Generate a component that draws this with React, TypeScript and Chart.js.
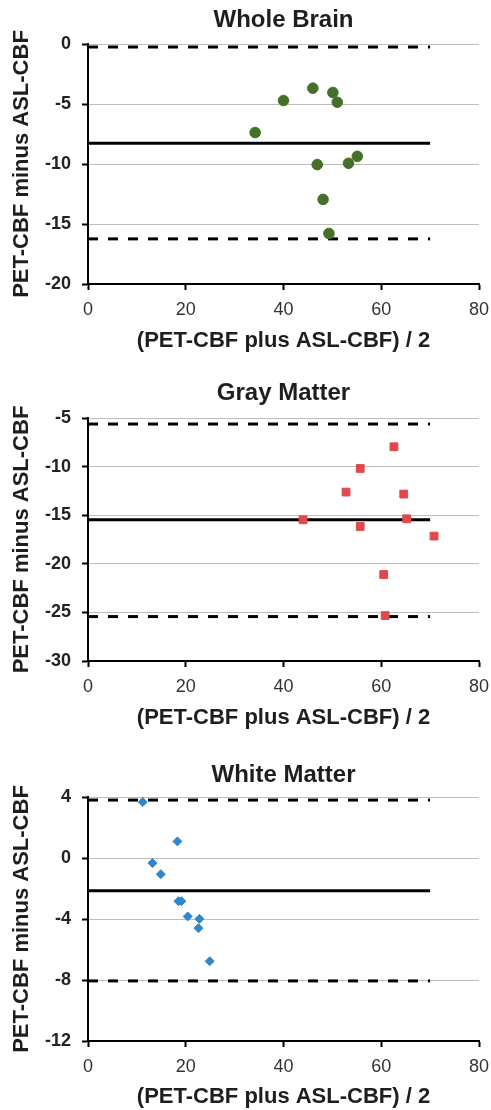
import React, { useEffect, useRef } from "react";
import { Chart, registerables } from "chart.js";

Chart.register(...registerables);

// ---- data ----
const xTicks = [0, 20, 40, 60, 80];
const lineSpanX = [0, 70];

const wholeBrainX = [34.2, 40.0, 46.0, 50.1, 51.0, 46.9, 53.3, 55.1, 48.1, 49.3];
const wholeBrainY = [-7.38, -4.71, -3.68, -4.04, -4.85, -10.05, -9.94, -9.36, -12.95, -15.79];
const wholeBrainLines = [-0.25, -8.27, -16.24]; // upper limit, mean, lower limit
const wholeBrainYTicks = [0, -5, -10, -15, -20];

const grayX = [44.0, 52.8, 55.7, 55.7, 62.6, 64.6, 65.2, 70.8, 60.5, 60.8];
const grayY = [-15.47, -12.62, -10.19, -16.16, -7.96, -12.83, -15.37, -17.15, -21.1, -25.33];
const grayLines = [-5.62, -15.47, -25.43];
const grayYTicks = [-5, -10, -15, -20, -25, -30];

const whiteX = [11.2, 18.3, 13.2, 14.9, 18.5, 19.1, 20.4, 22.8, 22.6, 24.9];
const whiteY = [3.67, 1.09, -0.33, -1.06, -2.83, -2.83, -3.83, -3.99, -4.6, -6.77];
const whiteLines = [3.8, -2.15, -8.06];
const whiteYTicks = [4, 0, -4, -8, -12];

const titles = ["Whole Brain", "Gray Matter", "White Matter"];
const xTitle = "(PET-CBF plus ASL-CBF) / 2";
const yTitle = "PET-CBF minus ASL-CBF";

const FONT = "'Liberation Sans', Arial, Helvetica, sans-serif";

type PanelCfg = {
  title: string;
  xs: number[];
  ys: number[];
  lines: number[];
  yTicks: number[];
  color: string;
  pointStyle: string;
  radius: number;
  top: number;
  height: number;
  chartTop: number;
  chartBottom: number;
  titleCenter: number;
  xTitleCenter: number;
};

function Panel({ cfg }: { cfg: PanelCfg }) {
  const ref = useRef<HTMLCanvasElement | null>(null);
  useEffect(() => {
    if (!ref.current) return;
    const H = cfg.height;
    const titleLH = 24 * 1.2;
    const padTop = cfg.titleCenter - titleLH / 2;
    const padBottom = cfg.chartTop - padTop - titleLH;
    const xTitleLH = 22 * 1.2;
    const xTitlePadBottom = H - cfg.xTitleCenter - xTitleLH / 2;
    const yMax = cfg.yTicks[0];
    const yMin = cfg.yTicks[cfg.yTicks.length - 1];
    const yStep = cfg.yTicks[0] - cfg.yTicks[1];
    const mk = (v: number) => lineSpanX.map((x) => ({ x, y: v }));
    const chart = new Chart(ref.current, {
      type: "scatter",
      data: {
        datasets: [
          {
            type: "scatter",
            data: cfg.xs.map((x, i) => ({ x, y: cfg.ys[i] })),
            backgroundColor: cfg.color,
            borderColor: cfg.color,
            pointStyle: cfg.pointStyle as any,
            pointRadius: cfg.radius,
            borderWidth: 1,
          },
          {
            type: "line",
            data: mk(cfg.lines[1]),
            borderColor: "#000",
            borderWidth: 3,
            pointRadius: 0,
            fill: false,
          },
          {
            type: "line",
            data: mk(cfg.lines[0]),
            borderColor: "#000",
            borderWidth: 3,
            borderDash: [10, 10],
            pointRadius: 0,
            fill: false,
          },
          {
            type: "line",
            data: mk(cfg.lines[2]),
            borderColor: "#000",
            borderWidth: 3,
            borderDash: [10, 10],
            pointRadius: 0,
            fill: false,
          },
        ] as any,
      },
      options: {
        responsive: false,
        animation: false,
        devicePixelRatio: 1,
        layout: { padding: { top: 0, right: 12, bottom: 0, left: 0 } },
        plugins: {
          legend: { display: false },
          tooltip: { enabled: false },
          title: {
            display: true,
            fullSize: false,
            text: cfg.title,
            color: "#1e1e1e",
            font: { family: FONT, size: 24, weight: "bold", lineHeight: 1.2 },
            padding: { top: padTop, bottom: padBottom },
          },
        },
        scales: {
          x: {
            type: "linear",
            min: 0,
            max: 80,
            afterBuildTicks: (s: any) => {
              s.ticks = xTicks.map((v) => ({ value: v }));
            },
            afterFit: (s: any) => {
              s.height = H - cfg.chartBottom;
              s.paddingLeft = 0;
              s.paddingRight = 0;
            },
            ticks: {
              color: "#333",
              font: { family: FONT, size: 18 },
              padding: 9,
              maxRotation: 0,
            },
            grid: {
              display: true,
              drawOnChartArea: false,
              drawTicks: true,
              tickLength: 6,
              tickColor: "#000",
              tickWidth: 2,
            },
            border: { display: true, color: "#000", width: 2 },
            title: {
              display: true,
              text: xTitle,
              color: "#1e1e1e",
              font: { family: FONT, size: 22, weight: "bold", lineHeight: 1.2 },
              padding: { top: 0, bottom: xTitlePadBottom },
            },
          },
          y: {
            type: "linear",
            min: yMin,
            max: yMax,
            afterBuildTicks: (s: any) => {
              s.ticks = cfg.yTicks
                .slice()
                .reverse()
                .map((v) => ({ value: v }));
            },
            afterFit: (s: any) => {
              s.width = 88;
              s.paddingTop = 0;
              s.paddingBottom = 0;
            },
            ticks: {
              color: "#222",
              font: { family: FONT, size: 18, weight: "bold" },
              padding: 11,
              stepSize: yStep,
            },
            grid: {
              display: true,
              color: "#bdbdbd",
              lineWidth: 1,
              drawTicks: true,
              tickLength: 6,
              tickColor: "#000",
              tickWidth: 2,
            },
            border: { display: true, color: "#000", width: 2 },
            title: {
              display: true,
              text: yTitle,
              color: "#1e1e1e",
              font: { family: FONT, size: 22, weight: "bold", lineHeight: 1.2 },
              padding: { top: 9, bottom: 0 },
            },
          },
        },
      } as any,
    });
    return () => chart.destroy();
  }, [cfg]);
  return (
    <div style={{ position: "absolute", left: 0, top: cfg.top, width: 491, height: cfg.height }}>
      <canvas ref={ref} width={491} height={cfg.height} style={{ display: "block" }} />
    </div>
  );
}

const panels: PanelCfg[] = [
  {
    title: titles[0],
    xs: wholeBrainX,
    ys: wholeBrainY,
    lines: wholeBrainLines,
    yTicks: wholeBrainYTicks,
    color: "#44702a",
    pointStyle: "circle",
    radius: 5.3,
    top: 0,
    height: 365,
    chartTop: 44,
    chartBottom: 284,
    titleCenter: 20,
    xTitleCenter: 341,
  },
  {
    title: titles[1],
    xs: grayX,
    ys: grayY,
    lines: grayLines,
    yTicks: grayYTicks,
    color: "#e0484c",
    pointStyle: "rect",
    radius: 5.5,
    top: 365,
    height: 370,
    chartTop: 418 - 365,
    chartBottom: 661 - 365,
    titleCenter: 393 - 365,
    xTitleCenter: 718 - 365,
  },
  {
    title: titles[2],
    xs: whiteX,
    ys: whiteY,
    lines: whiteLines,
    yTicks: whiteYTicks,
    color: "#2f86c8",
    pointStyle: "rectRot",
    radius: 4.5,
    top: 735,
    height: 375,
    chartTop: 797 - 735,
    chartBottom: 1041 - 735,
    titleCenter: 775 - 735,
    xTitleCenter: 1097 - 735,
  },
];

export default function App() {
  return (
    <div style={{ position: "absolute", left: 0, top: 0, width: 491, height: 1110, background: "#fff" }}>
      {panels.map((p, i) => (
        <Panel key={i} cfg={p} />
      ))}
    </div>
  );
}
